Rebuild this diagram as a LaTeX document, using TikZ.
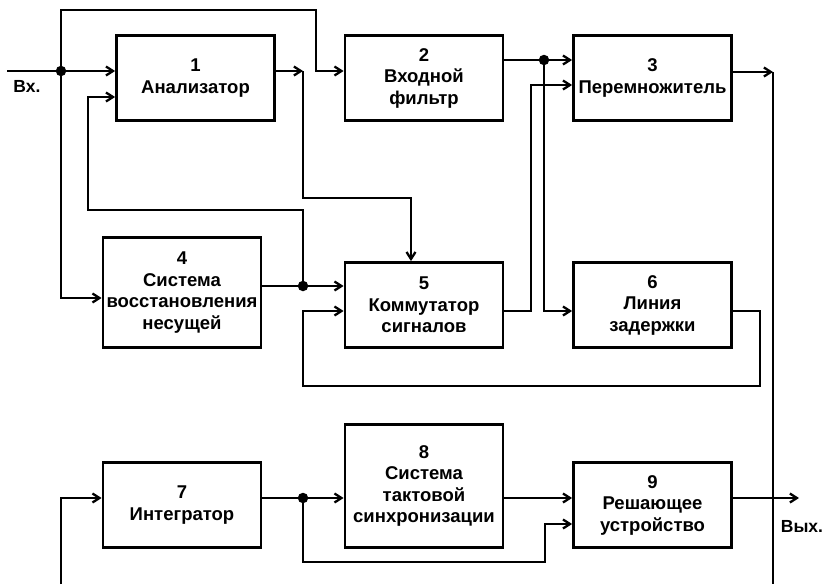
\documentclass[tikz,border=0pt]{standalone}
\usepackage{fontspec}
\setmainfont{Liberation Sans}
\usetikzlibrary{arrows.meta,calc}

\begin{document}
\begin{tikzpicture}[x=1pt,y=-1pt,
 box/.style={draw,line width=2.8pt,align=center,minimum width=158pt,minimum height=85pt,inner sep=2pt,font=\bfseries\fontsize{18.5}{21.5}\selectfont},
 arr/.style={-{Straight Barb[length=7pt,width=9pt]},line width=2.3pt},
 wire/.style={line width=2.3pt},
 dot/.style={circle,fill,inner sep=0pt,minimum size=10.5pt},
 lbl/.style={font=\bfseries\fontsize{17.5}{20}\selectfont}
]
\useasboundingbox (0,0) rectangle (825,584);
% blocks
\node[box] (analyzer) at (195.5,78) {1\\Анализатор};
\node[box] (infilter) at (424,78) {2\\Входной\\фильтр};
\node[box] (mult) at (652.5,78) {3\\Перемножитель};
\node[box,minimum height=110pt] (carrier) at (182,292.5) {4\\Система\\восстановления\\несущей};
\node[box] (commut) at (424,305) {5\\Коммутатор\\сигналов};
\node[box] (delay) at (652.5,305) {6\\Линия\\задержки};
\node[box] (integr) at (182,505) {7\\Интегратор};
\node[box,minimum height=123pt] (clocksync) at (424,486) {8\\Система\\тактовой\\синхронизации};
\node[box] (decider) at (652.5,505) {9\\Решающее\\устройство};
% junctions and bends
\coordinate (vin) at (7,71);
\coordinate (jin) at (61,71);
\coordinate (ttop) at (316,10);
\coordinate (a1out) at (303,71);
\coordinate (a1bend) at (411,198);
\coordinate (fbleft) at (88,210);
\coordinate (jcar) at (303,286);
\coordinate (jflt) at (544,60);
\coordinate (cmout) at (531,85);
\coordinate (dlbend) at (760,386);
\coordinate (dlleft) at (303,386);
\coordinate (mout) at (773,72);
\coordinate (mdown) at (773,584);
\coordinate (ibot) at (61,584);
\coordinate (jint) at (303,498);
\coordinate (ibend) at (545,562);
\coordinate (vout) at (799,498);
% upper chain
\draw[arr] (vin) -- (analyzer.west |- jin);
\draw[arr] (jin) |- (ttop) |- (infilter.west |- jin);
\draw[arr] (jin) |- ($(carrier.west)+(0,5.5)$);
\draw[arr] (analyzer.east |- jin) -- (a1out);
\draw[arr] (a1out) |- (a1bend) -- (commut.north -| a1bend);
\draw[arr] (jcar) |- (fbleft) |- ($(analyzer.west)+(0,19)$);
\draw[arr] (carrier.east |- jcar) -- (commut.west |- jcar);
\draw[arr] ($(delay.east)+(0,6)$) -| (dlbend) -- (dlleft) |- ($(commut.west)+(0,6)$);
\draw[arr] ($(commut.east)+(0,6)$) -| (cmout) -- (mult.west |- cmout);
\draw[arr] (infilter.east |- jflt) -- (mult.west |- jflt);
\draw[arr] (jflt) |- ($(delay.west)+(0,6)$);
\draw[arr] ($(mult.east)+(0,-6)$) -- (mout);
\draw[wire] (mout) -- (mdown);
% lower chain
\draw[arr] (ibot) |- (integr.west |- jint);
\draw[arr] (integr.east |- jint) -- (clocksync.west |- jint);
\draw[arr] (jint) |- (ibend) |- ($(decider.west)+(0,19)$);
\draw[arr] (clocksync.east |- jint) -- (decider.west |- jint);
\draw[arr] (decider.east |- jint) -- (vout);
% dots and labels
\node[dot] (djin) at (jin) {};
\node[dot] (djcar) at (jcar) {};
\node[dot] (djflt) at (jflt) {};
\node[dot] (djint) at (jint) {};
\node[lbl] (inlabel) at (27,86) {Вх.};
\node[lbl] (outlabel) at (802,526) {Вых.};
\end{tikzpicture}
\end{document}
